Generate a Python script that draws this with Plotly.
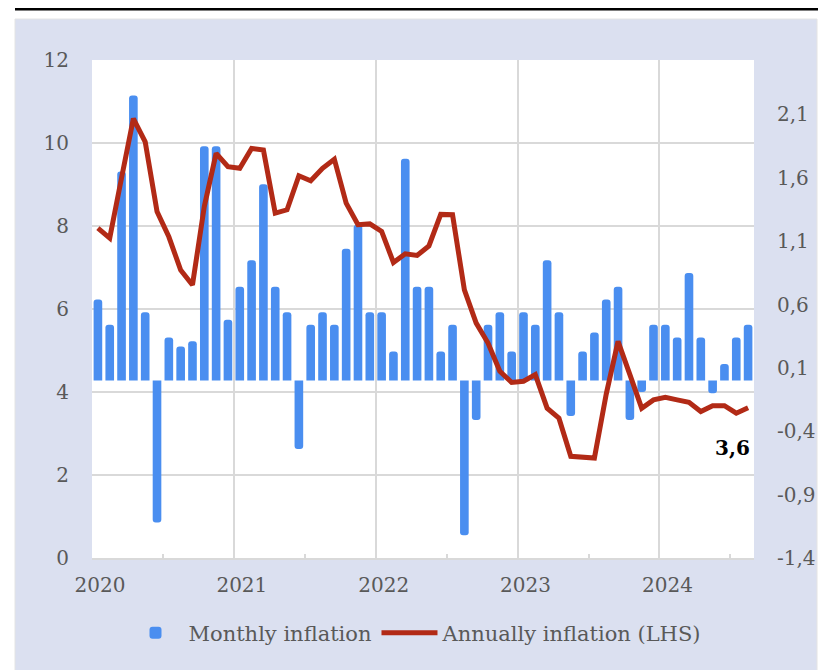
import plotly.graph_objects as go

# ---- data ----
years = ["2020", "2021", "2022", "2023", "2024"]
monthly_inflation = [0.64, 0.44, 1.65, 2.25, 0.54, -1.12, 0.34, 0.27, 0.31, 1.85, 1.85, 0.48,
                     0.74, 0.95, 1.55, 0.74, 0.54, -0.54, 0.44, 0.54, 0.44, 1.04, 1.23, 0.54,
                     0.54, 0.23, 1.75, 0.74, 0.74, 0.23, 0.44, -1.22, -0.31, 0.44, 0.54, 0.23,
                     0.54, 0.44, 0.95, 0.54, -0.28, 0.23, 0.38, 0.64, 0.74, -0.31, -0.09, 0.44,
                     0.44, 0.34, 0.85, 0.34, -0.10, 0.13, 0.34, 0.44]
annual_inflation = [7.95, 7.71, 9.16, 10.59, 10.03, 8.35, 7.74, 6.94, 6.58, 8.47, 9.75, 9.43,
                    9.39, 9.87, 9.83, 8.31, 8.39, 9.21, 9.09, 9.39, 9.61, 8.55, 8.03, 8.05,
                    7.87, 7.12, 7.33, 7.29, 7.52, 8.28, 8.27, 6.46, 5.66, 5.18, 4.50, 4.23,
                    4.26, 4.42, 3.61, 3.37, 2.45, 2.43, 2.41, 3.95, 5.22, 4.42, 3.61, 3.81,
                    3.87, 3.81, 3.75, 3.53, 3.67, 3.67, 3.49, 3.62]
left_ticks = [0, 2, 4, 6, 8, 10, 12]
right_ticks = [-1.4, -0.9, -0.4, 0.1, 0.6, 1.1, 1.6, 2.1]
right_tick_labels = ["-1,4", "-0,9", "-0,4", "0,1", "0,6", "1,1", "1,6", "2,1"]
last_label = "3,6"

months = list(range(len(monthly_inflation)))
year_pos = [12 * k - 0.5 for k in range(len(years))]
mid_year_pos = [12 * k + 5.5 for k in range(len(years))]

TXT = "#595959"
GRID = "#d9d9d9"
PANEL = "#dbe0f0"
FONT = "DejaVu Serif"

fig = go.Figure()
fig.add_trace(go.Bar(
    x=months, y=monthly_inflation, name="Monthly inflation",
    marker=dict(color="#4a8ef0", line=dict(width=0), cornerradius=3),
    xaxis="x", yaxis="y2",
))
fig.add_trace(go.Scatter(
    x=months, y=annual_inflation, name="Annually inflation (LHS)", mode="lines",
    line=dict(color="#b22a16", width=5),
    xaxis="x", yaxis="y3",
))

# page has an 8px body margin: figure origin sits at page (8, 8)
OFF = 8
W, H = 828, 662
L, R, T, B = 84, 82, 52, 112
pw, ph = W - L - R, H - T - B


def px(page_x):
    return (page_x - OFF - L) / pw


def py(page_y):
    return (H - B - (page_y - OFF)) / ph


fig.update_layout(
    width=W, height=H,
    margin=dict(l=L, r=R, t=T, b=B),
    paper_bgcolor=PANEL, plot_bgcolor="white",
    font=dict(family=FONT, color=TXT, size=20),
    bargap=0.27,
    showlegend=True,
    legend=dict(orientation="h", x=px(415), xanchor="center", y=py(633), yanchor="middle",
                font=dict(family=FONT, size=21, color=TXT), bgcolor="rgba(0,0,0,0)",
                itemwidth=56, tracegroupgap=0),
    xaxis=dict(range=[-0.5, len(months) - 0.5], tickmode="array", tickvals=year_pos,
               ticktext=years, showgrid=True, gridcolor=GRID, gridwidth=1.5,
               ticks="", showline=True, linecolor=GRID, linewidth=2, zeroline=False,
               ticklabelshift=8, ticklabelstandoff=8,
               minor=dict(tickmode="array", tickvals=mid_year_pos, ticks="inside", ticklen=4,
                          tickwidth=1.5, tickcolor=GRID, showgrid=False),
               tickfont=dict(family=FONT, size=20, color=TXT)),
    yaxis=dict(range=[0, 12], tickvals=left_ticks, showgrid=True, gridcolor=GRID,
               gridwidth=1.5, zeroline=False, showline=False, ticks="",
               ticklabelstandoff=22, tickfont=dict(family=FONT, size=20, color=TXT)),
    yaxis2=dict(range=[-1.4, 2.53], overlaying="y", side="right", tickmode="array",
                tickvals=right_ticks, ticktext=right_tick_labels, showgrid=False,
                zeroline=False, showline=False, ticks="", ticklabelstandoff=22,
                tickfont=dict(family=FONT, size=20, color=TXT)),
    yaxis3=dict(range=[0, 12], overlaying="y", visible=False),
    shapes=[
        # white surroundings of the tinted panel
        dict(type="rect", xref="paper", yref="paper", x0=px(0), x1=px(15), y0=py(700), y1=py(0),
             fillcolor="white", line=dict(width=0), layer="below"),
        dict(type="rect", xref="paper", yref="paper", x0=px(817), x1=px(850), y0=py(700), y1=py(0),
             fillcolor="white", line=dict(width=0), layer="below"),
        dict(type="rect", xref="paper", yref="paper", x0=px(0), x1=px(850), y0=py(19), y1=py(0),
             fillcolor="white", line=dict(width=0), layer="below"),
        dict(type="rect", xref="paper", yref="paper", x0=px(15), x1=px(817), y0=py(700), y1=py(19),
             fillcolor="rgba(0,0,0,0)", line=dict(color="#e4e4e4", width=1), layer="below"),
        dict(type="line", xref="paper", yref="paper", x0=px(15), x1=px(818), y0=py(9), y1=py(9),
             line=dict(color="black", width=3)),
    ],
    annotations=[
        dict(x=months[-1], y=annual_inflation[-1], xref="x", yref="y", text="<b>" + last_label + "</b>",
             showarrow=False, xanchor="right", yanchor="middle", xshift=4, yshift=-40,
             font=dict(family=FONT, size=20, color="black")),
    ],
)

fig.write_html("out.html")
